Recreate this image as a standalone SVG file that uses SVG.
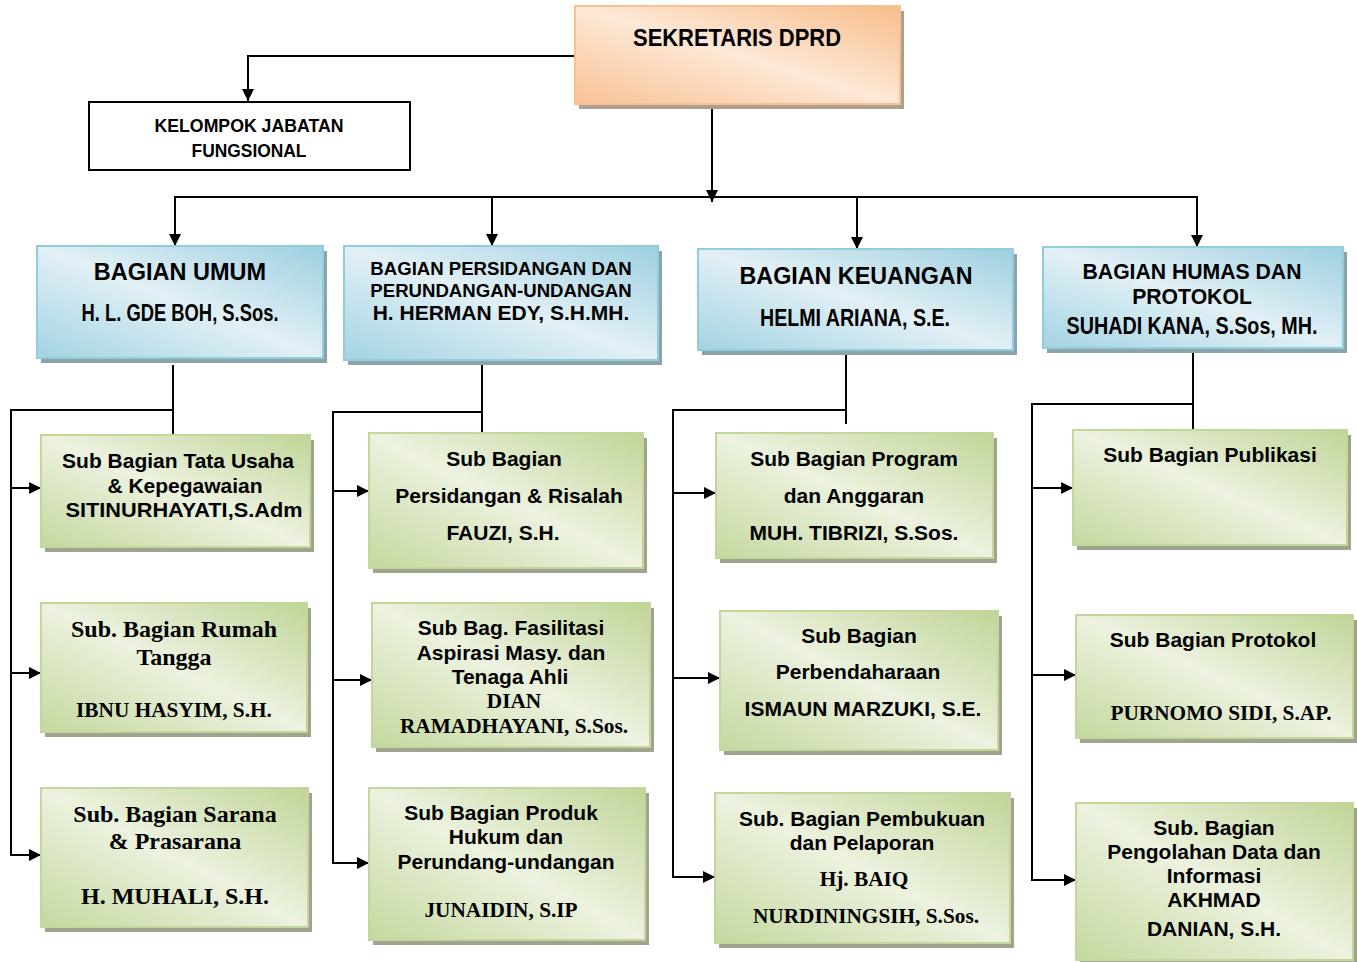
<svg xmlns="http://www.w3.org/2000/svg" width="1357" height="962" viewBox="0 0 1357 962">
<defs>
<linearGradient id="gGreen" x1="1" y1="0" x2="0" y2="1">
<stop offset="0" stop-color="#c0d597"/><stop offset="0.5" stop-color="#ecf2df"/><stop offset="1" stop-color="#c4d89e"/>
</linearGradient>
<linearGradient id="gBlue" x1="1" y1="0" x2="0" y2="1">
<stop offset="0" stop-color="#9dcfe0"/><stop offset="0.5" stop-color="#e2f0f5"/><stop offset="1" stop-color="#a3d3e3"/>
</linearGradient>
<linearGradient id="gOrange" x1="1" y1="0" x2="0" y2="1">
<stop offset="0" stop-color="#f8bd8a"/><stop offset="0.5" stop-color="#fde8d6"/><stop offset="1" stop-color="#f9c295"/>
</linearGradient>
<marker id="arr" viewBox="0 0 12 12" refX="12" refY="6" markerWidth="12" markerHeight="12" markerUnits="userSpaceOnUse" orient="auto">
<path d="M0,0 L12,6 L0,12 z" fill="#000"/>
</marker>
</defs>
<style>
.a{font-family:"Liberation Sans",Arial,sans-serif;font-weight:bold;fill:#000;text-anchor:middle}
.t{font-family:"Liberation Serif","Times New Roman",serif;font-weight:bold;fill:#000;text-anchor:middle}
.g{fill:url(#gGreen);stroke:#c3d69b;stroke-width:2}
.b{fill:url(#gBlue);stroke:#92cddc;stroke-width:2}
.o{fill:url(#gOrange);stroke:#fac090;stroke-width:2}
.sg{fill:#9fa48e}
.sb{fill:#8ba3a9}
.so{fill:#ad9f90}
.c{fill:none;stroke:#000;stroke-width:2}
.ca{fill:none;stroke:#000;stroke-width:2;marker-end:url(#arr)}
</style>
<rect width="1357" height="962" fill="#fff"/>

<g id="connectors">
<path class="ca" d="M575,56 H248 V101"/>
<path class="ca" d="M712,104 V202"/>
<path class="c" d="M174,197 H1198"/>
<path class="ca" d="M175,197 V246"/>
<path class="ca" d="M492,197 V246"/>
<path class="ca" d="M857,197 V249"/>
<path class="ca" d="M1197,197 V247"/>

<path class="c" d="M173,365 V435"/>
<path class="ca" d="M173,410 H11 V855 H41"/>
<path class="ca" d="M11,488 H41"/>
<path class="ca" d="M11,673 H41"/>

<path class="c" d="M482,365 V433"/>
<path class="ca" d="M482,412 H333 V863 H369"/>
<path class="ca" d="M333,491 H369"/>
<path class="ca" d="M333,680 H372"/>

<path class="c" d="M846,355 V424"/>
<path class="ca" d="M846,410 H673 V877 H715"/>
<path class="ca" d="M673,493 H716"/>
<path class="ca" d="M673,678 H720"/>

<path class="c" d="M1193,353 V430"/>
<path class="ca" d="M1193,404 H1032 V880 H1076"/>
<path class="ca" d="M1032,488 H1073"/>
<path class="ca" d="M1032,675 H1076"/>
</g>

<g id="sekretaris">
<rect class="so" x="579" y="11" width="325" height="98"/>
<rect class="o" x="575" y="6" width="325" height="98"/>
<text class="a" x="737" y="46" font-size="24" textLength="208" lengthAdjust="spacingAndGlyphs">SEKRETARIS DPRD</text>
</g>

<g id="kelompok">
<rect x="89" y="102" width="321" height="68" fill="#fff" stroke="#000" stroke-width="2"/>
<text class="a" x="249" y="132" font-size="18" textLength="189" lengthAdjust="spacingAndGlyphs">KELOMPOK JABATAN</text>
<text class="a" x="249" y="157" font-size="18" textLength="115" lengthAdjust="spacingAndGlyphs">FUNGSIONAL</text>
</g>

<g id="bagian-umum">
<rect class="sb" x="41" y="251" width="286" height="112"/>
<rect class="b" x="37" y="246" width="286" height="112"/>
<text class="a" x="180" y="280" font-size="23.5">BAGIAN UMUM</text>
<text class="a" x="180" y="321" font-size="23" textLength="197" lengthAdjust="spacingAndGlyphs">H. L. GDE BOH, S.Sos.</text>
</g>

<g id="bagian-persidangan">
<rect class="sb" x="348" y="251" width="314" height="114"/>
<rect class="b" x="344" y="246" width="314" height="114"/>
<text class="a" x="501" y="275" font-size="18.6">BAGIAN PERSIDANGAN DAN</text>
<text class="a" x="501" y="297" font-size="18.6">PERUNDANGAN-UNDANGAN</text>
<text class="a" x="501" y="320" font-size="21">H. HERMAN EDY, S.H.MH.</text>
</g>

<g id="bagian-keuangan">
<rect class="sb" x="702" y="254" width="315" height="101"/>
<rect class="b" x="698" y="249" width="315" height="101"/>
<text class="a" x="856" y="284" font-size="23.3">BAGIAN KEUANGAN</text>
<text class="a" x="855" y="326" font-size="24" textLength="190" lengthAdjust="spacingAndGlyphs">HELMI ARIANA, S.E.</text>
</g>

<g id="bagian-humas">
<rect class="sb" x="1047" y="252" width="300" height="101"/>
<rect class="b" x="1043" y="247" width="300" height="101"/>
<text class="a" x="1192" y="279" font-size="21.2">BAGIAN HUMAS DAN</text>
<text class="a" x="1192" y="304" font-size="21.2">PROTOKOL</text>
<text class="a" x="1192" y="334" font-size="23" textLength="251" lengthAdjust="spacingAndGlyphs">SUHADI KANA, S.Sos, MH.</text>
</g>

<g id="sub-tata-usaha">
<rect class="sg" x="45" y="440" width="269" height="112"/>
<rect class="g" x="41" y="435" width="269" height="112"/>
<text class="a" x="178" y="468" font-size="21">Sub Bagian Tata Usaha</text>
<text class="a" x="185" y="493" font-size="21">&amp; Kepegawaian</text>
<text class="a" x="184" y="517" font-size="20" textLength="237" lengthAdjust="spacingAndGlyphs">SITINURHAYATI,S.Adm</text>
</g>

<g id="sub-rumah-tangga">
<rect class="sg" x="45" y="608" width="266" height="129"/>
<rect class="g" x="41" y="603" width="266" height="129"/>
<text class="t" x="174" y="637" font-size="24">Sub. Bagian Rumah</text>
<text class="t" x="174" y="665" font-size="24">Tangga</text>
<text class="t" x="174" y="717" font-size="21.3">IBNU HASYIM, S.H.</text>
</g>

<g id="sub-sarana">
<rect class="sg" x="45" y="793" width="267" height="139"/>
<rect class="g" x="41" y="788" width="267" height="139"/>
<text class="t" x="175" y="822" font-size="24">Sub. Bagian Sarana</text>
<text class="t" x="175" y="849" font-size="24">&amp; Prasarana</text>
<text class="t" x="175" y="904" font-size="24">H. MUHALI, S.H.</text>
</g>

<g id="sub-persidangan">
<rect class="sg" x="373" y="438" width="274" height="135"/>
<rect class="g" x="369" y="433" width="274" height="135"/>
<text class="a" x="504" y="466" font-size="21">Sub Bagian</text>
<text class="a" x="509" y="503" font-size="21">Persidangan &amp; Risalah</text>
<text class="a" x="503" y="540" font-size="21">FAUZI, S.H.</text>
</g>

<g id="sub-fasilitasi">
<rect class="sg" x="376" y="608" width="278" height="144"/>
<rect class="g" x="372" y="603" width="278" height="144"/>
<text class="a" x="511" y="635" font-size="21">Sub Bag. Fasilitasi</text>
<text class="a" x="511" y="660" font-size="21">Aspirasi Masy. dan</text>
<text class="a" x="510" y="684" font-size="21">Tenaga Ahli</text>
<text class="t" x="514" y="708" font-size="21.3">DIAN</text>
<text class="t" x="514" y="733" font-size="21.3">RAMADHAYANI, S.Sos.</text>
</g>

<g id="sub-produk-hukum">
<rect class="sg" x="373" y="793" width="276" height="152"/>
<rect class="g" x="369" y="788" width="276" height="152"/>
<text class="a" x="501" y="820" font-size="21">Sub Bagian Produk</text>
<text class="a" x="506" y="844" font-size="21">Hukum dan</text>
<text class="a" x="506" y="869" font-size="21">Perundang-undangan</text>
<text class="t" x="501" y="917" font-size="21.3">JUNAIDIN, S.IP</text>
</g>

<g id="sub-program">
<rect class="sg" x="720" y="438" width="277" height="125"/>
<rect class="g" x="716" y="433" width="277" height="125"/>
<text class="a" x="854" y="466" font-size="21">Sub Bagian Program</text>
<text class="a" x="854" y="503" font-size="21">dan Anggaran</text>
<text class="a" x="854" y="540" font-size="21">MUH. TIBRIZI, S.Sos.</text>
</g>

<g id="sub-perbendaharaan">
<rect class="sg" x="724" y="616" width="278" height="139"/>
<rect class="g" x="720" y="611" width="278" height="139"/>
<text class="a" x="859" y="643" font-size="21">Sub Bagian</text>
<text class="a" x="858" y="679" font-size="21">Perbendaharaan</text>
<text class="a" x="863" y="716" font-size="21">ISMAUN MARZUKI, S.E.</text>
</g>

<g id="sub-pembukuan">
<rect class="sg" x="719" y="798" width="295" height="150"/>
<rect class="g" x="715" y="793" width="295" height="150"/>
<text class="a" x="862" y="826" font-size="21">Sub. Bagian Pembukuan</text>
<text class="a" x="862" y="850" font-size="21">dan Pelaporan</text>
<text class="t" x="864" y="886" font-size="21.3">Hj. BAIQ</text>
<text class="t" x="866" y="923" font-size="21.3">NURDININGSIH, S.Sos.</text>
</g>

<g id="sub-publikasi">
<rect class="sg" x="1077" y="435" width="274" height="115"/>
<rect class="g" x="1073" y="430" width="274" height="115"/>
<text class="a" x="1210" y="462" font-size="21">Sub Bagian Publikasi</text>
</g>

<g id="sub-protokol">
<rect class="sg" x="1080" y="620" width="277" height="123"/>
<rect class="g" x="1076" y="615" width="277" height="123"/>
<text class="a" x="1213" y="647" font-size="21">Sub Bagian Protokol</text>
<text class="t" x="1221" y="720" font-size="21.3">PURNOMO SIDI, S.AP.</text>
</g>

<g id="sub-pengolahan">
<rect class="sg" x="1080" y="808" width="277" height="157"/>
<rect class="g" x="1076" y="803" width="277" height="157"/>
<text class="a" x="1214" y="835" font-size="21">Sub. Bagian</text>
<text class="a" x="1214" y="859" font-size="21">Pengolahan Data dan</text>
<text class="a" x="1214" y="883" font-size="21">Informasi</text>
<text class="a" x="1214" y="907" font-size="21">AKHMAD</text>
<text class="a" x="1214" y="936" font-size="21">DANIAN, S.H.</text>
</g>
</svg>
